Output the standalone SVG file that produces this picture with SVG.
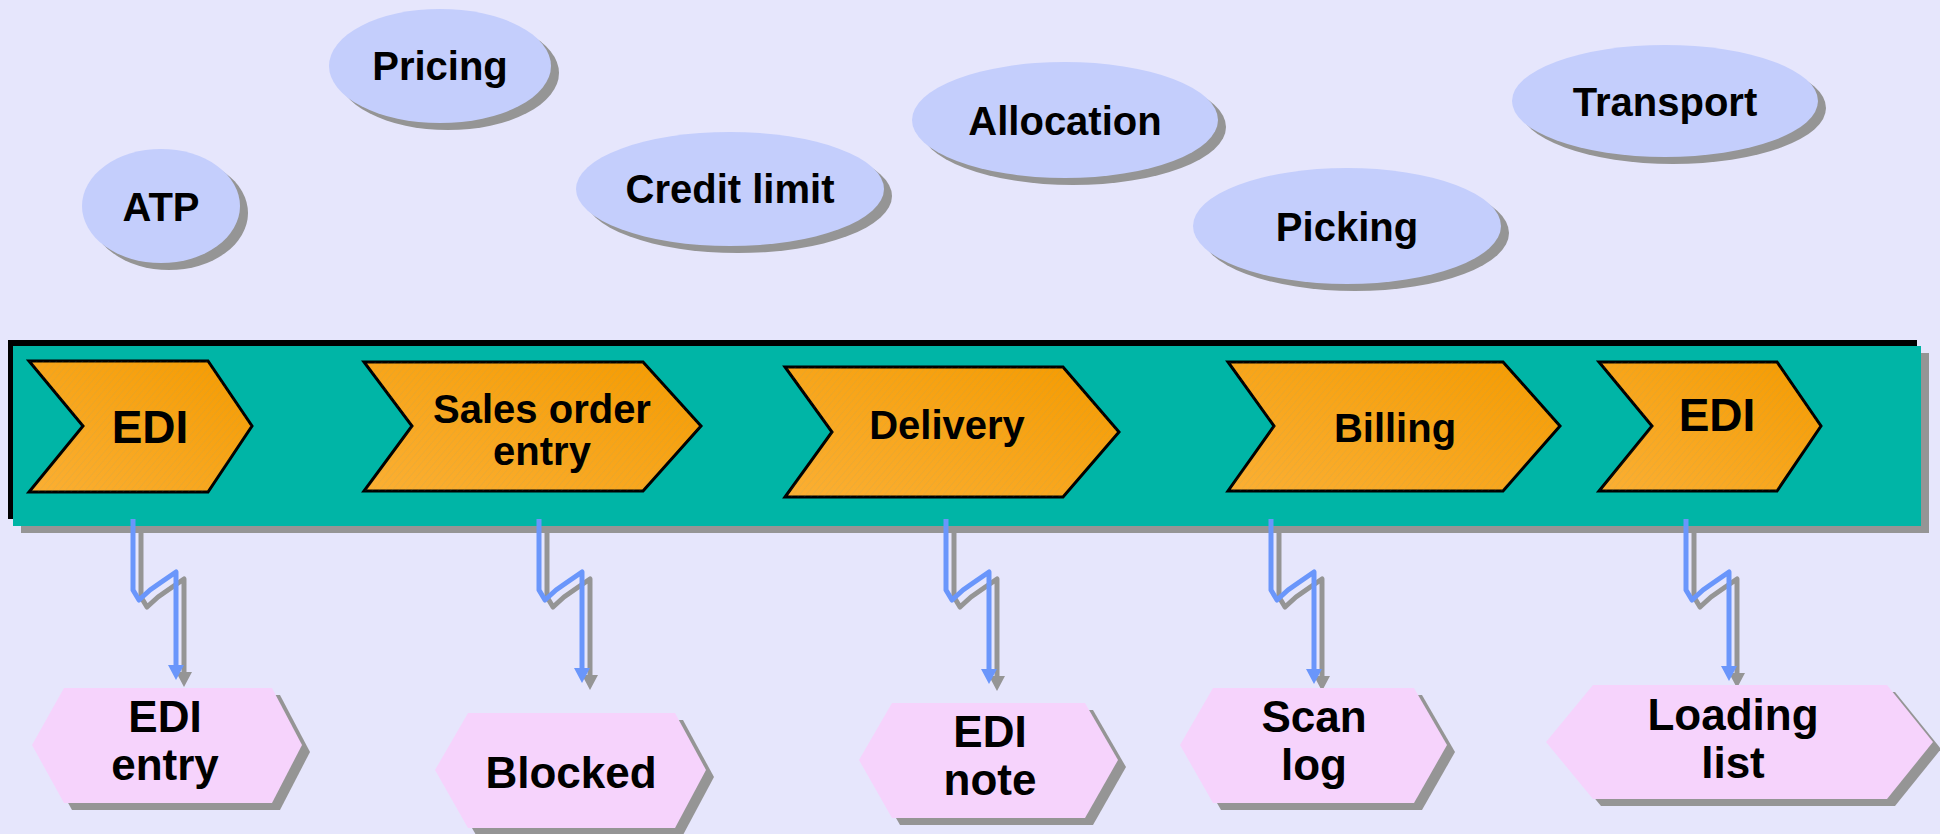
<svg xmlns="http://www.w3.org/2000/svg" width="1940" height="834" viewBox="0 0 1940 834">
<defs>
<style>
.t{font-family:"Liberation Sans",Arial,sans-serif;font-weight:bold;fill:#000;text-anchor:middle}
.ell{fill:#C4CEFC}
.esh{fill:#959595}
.chev{fill:url(#og);stroke:#000;stroke-width:3;stroke-linejoin:miter}
.hatch{fill:url(#hp);stroke:none}
.hex{fill:#F6D3FC}
.hsh{fill:#959595}
.wire{fill:none;stroke:#6A96FB;stroke-width:5;stroke-linejoin:round;marker-end:url(#ab)}
.wsh{fill:none;stroke:#959595;stroke-width:5;stroke-linejoin:round;marker-end:url(#ag)}
</style>
<linearGradient id="og" x1="0" y1="1" x2="1" y2="0">
<stop offset="0" stop-color="#FBAF33"/>
<stop offset="1" stop-color="#F59B00"/>
</linearGradient>
<pattern id="hp" width="5" height="5" patternUnits="userSpaceOnUse" patternTransform="rotate(40)">
<line x1="0" y1="0" x2="0" y2="5" stroke="#7FA08A" stroke-width="0.6" stroke-opacity="0.35"/>
</pattern>
<marker id="ab" viewBox="0 0 16 16" refX="0" refY="8" markerWidth="16" markerHeight="16" markerUnits="userSpaceOnUse" orient="auto">
<path d="M0,0 L15,8 L0,16 z" fill="#6A96FB"/>
</marker>
<marker id="ag" viewBox="0 0 16 16" refX="0" refY="8" markerWidth="16" markerHeight="16" markerUnits="userSpaceOnUse" orient="auto">
<path d="M0,0 L15,8 L0,16 z" fill="#959595"/>
</marker>
</defs>
<rect x="0" y="0" width="1940" height="834" fill="#E6E6FC"/>

<g id="ellipses">
<g id="atp"><ellipse class="esh" cx="169" cy="213" rx="79" ry="57"/><ellipse class="ell" cx="161" cy="206" rx="79" ry="57"/><text class="t" x="161" y="221" font-size="40">ATP</text></g>
<g id="pricing"><ellipse class="esh" cx="448" cy="73" rx="111" ry="57"/><ellipse class="ell" cx="440" cy="66" rx="111" ry="57"/><text class="t" x="440" y="80" font-size="40">Pricing</text></g>
<g id="credit"><ellipse class="esh" cx="738" cy="196" rx="154" ry="57"/><ellipse class="ell" cx="730" cy="189" rx="154" ry="57"/><text class="t" x="730" y="203" font-size="40">Credit limit</text></g>
<g id="allocation"><ellipse class="esh" cx="1073" cy="127" rx="153" ry="58"/><ellipse class="ell" cx="1065" cy="120" rx="153" ry="58"/><text class="t" x="1065" y="135" font-size="40">Allocation</text></g>
<g id="picking"><ellipse class="esh" cx="1355" cy="233" rx="154" ry="58"/><ellipse class="ell" cx="1347" cy="226" rx="154" ry="58"/><text class="t" x="1347" y="241" font-size="40">Picking</text></g>
<g id="transport"><ellipse class="esh" cx="1673" cy="108" rx="153" ry="56"/><ellipse class="ell" cx="1665" cy="101" rx="153" ry="56"/><text class="t" x="1665" y="116" font-size="40">Transport</text></g>
</g>

<g id="band">
<rect x="21" y="353" width="1908" height="180" fill="#959595"/>
<rect x="8" y="340" width="1909" height="179" fill="#000"/>
<rect x="13" y="346" width="1908" height="180" fill="#00B5A6"/>
</g>

<g id="chevrons">
<g id="c-edi1"><polygon class="chev" points="29,361 208,361 252,426 208,492 29,492 83,426"/><polygon class="hatch" points="29,361 208,361 252,426 208,492 29,492 83,426"/><text class="t" x="150" y="443" font-size="46">EDI</text></g>
<g id="c-sales"><polygon class="chev" points="364,362 643,362 701,426 643,491 364,491 412,426"/><polygon class="hatch" points="364,362 643,362 701,426 643,491 364,491 412,426"/><text class="t" x="542" y="423" font-size="40">Sales order</text><text class="t" x="542" y="465" font-size="40">entry</text></g>
<g id="c-delivery"><polygon class="chev" points="785,367 1063,367 1119,432 1063,497 785,497 832,432"/><polygon class="hatch" points="785,367 1063,367 1119,432 1063,497 785,497 832,432"/><text class="t" x="947" y="439" font-size="40">Delivery</text></g>
<g id="c-billing"><polygon class="chev" points="1228,362 1503,362 1560,426 1503,491 1228,491 1274,426"/><polygon class="hatch" points="1228,362 1503,362 1560,426 1503,491 1228,491 1274,426"/><text class="t" x="1395" y="442" font-size="40">Billing</text></g>
<g id="c-edi2"><polygon class="chev" points="1599,362 1777,362 1821,426 1777,491 1599,491 1652,426"/><polygon class="hatch" points="1599,362 1777,362 1821,426 1777,491 1599,491 1652,426"/><text class="t" x="1717" y="431" font-size="46">EDI</text></g>
</g>

<g id="connectors">
<g transform="translate(8,7)">
<path class="wsh" d="M133,519 V590 L139,600 L150,590 L160,583 L176,572 V665"/>
<path class="wsh" d="M539,519 V590 L545,600 L556,590 L566,583 L582,572 V668"/>
<path class="wsh" d="M946,519 V590 L952,600 L963,590 L973,583 L989,572 V669"/>
<path class="wsh" d="M1271,519 V590 L1277,600 L1288,590 L1298,583 L1314,572 V669"/>
<path class="wsh" d="M1686,519 V590 L1692,600 L1703,590 L1713,583 L1729,572 V666"/>
</g>
<path class="wire" d="M133,519 V590 L139,600 L150,590 L160,583 L176,572 V665"/>
<path class="wire" d="M539,519 V590 L545,600 L556,590 L566,583 L582,572 V668"/>
<path class="wire" d="M946,519 V590 L952,600 L963,590 L973,583 L989,572 V669"/>
<path class="wire" d="M1271,519 V590 L1277,600 L1288,590 L1298,583 L1314,572 V669"/>
<path class="wire" d="M1686,519 V590 L1692,600 L1703,590 L1713,583 L1729,572 V666"/>
</g>

<g id="outputs">
<g id="o-ediin"><polygon class="hsh" points="40,752 72,695 280,695 310,752 280,810 72,810"/><polygon class="hex" points="32,745 64,688 272,688 302,745 272,803 64,803"/><text class="t" x="165" y="732" font-size="44">EDI</text><text class="t" x="165" y="780" font-size="44">entry</text></g>
<g id="o-blocked"><polygon class="hsh" points="443,777 476,720 683,720 714,777 683,835 476,835"/><polygon class="hex" points="435,770 468,713 675,713 706,770 675,828 468,828"/><text class="t" x="571" y="788" font-size="44">Blocked</text></g>
<g id="o-edinote"><polygon class="hsh" points="867,767 900,710 1093,710 1126,767 1093,825 900,825"/><polygon class="hex" points="859,760 892,703 1085,703 1118,760 1085,818 892,818"/><text class="t" x="990" y="747" font-size="44">EDI</text><text class="t" x="990" y="795" font-size="44">note</text></g>
<g id="o-scan"><polygon class="hsh" points="1188,752 1221,695 1422,695 1455,752 1422,810 1221,810"/><polygon class="hex" points="1180,745 1213,688 1414,688 1447,745 1414,803 1213,803"/><text class="t" x="1314" y="732" font-size="44">Scan</text><text class="t" x="1314" y="780" font-size="44">log</text></g>
<g id="o-loading"><polygon class="hsh" points="1554,749 1601,692 1895,692 1941,749 1895,806 1601,806"/><polygon class="hex" points="1546,742 1593,685 1887,685 1933,742 1887,799 1593,799"/><text class="t" x="1733" y="730" font-size="44">Loading</text><text class="t" x="1733" y="778" font-size="44">list</text></g>
</g>
</svg>
